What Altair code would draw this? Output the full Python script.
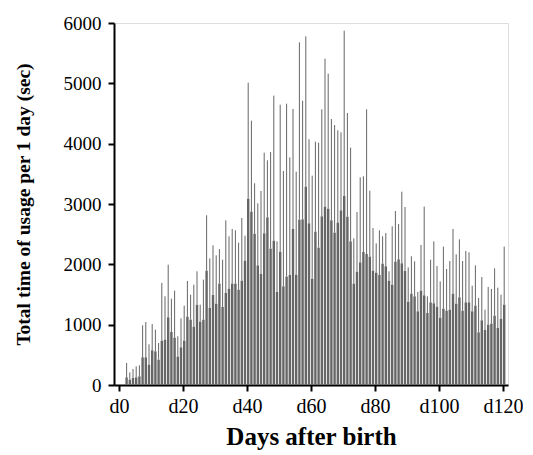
import altair as alt
import pandas as pd

days = list(range(2, 121))

means = [127, 88, 116, 127, 144, 459, 459, 337, 575, 558,
         420, 735, 751, 1122, 878, 785, 470, 624, 735, 1133,
         1083, 967, 1331, 1050, 1083, 1895, 1276, 1492, 1348, 1680,
         1293, 1525, 1597, 1680, 1680, 1580, 1729, 2061, 3088, 2873,
         2508, 1983, 1840, 2514, 2779, 2260, 2392, 1541, 2210, 1635,
         1796, 1823, 2586, 1829, 2740, 2746, 3287, 2680, 1762, 2541,
         2276, 2796, 2956, 2923, 2729, 2525, 2691, 2895, 3133, 2790,
         2381, 1680, 1878, 2033, 2204, 2171, 2127, 1895, 1862, 1823,
         2011, 1967, 1729, 1663, 2044, 2083, 2017, 1890, 1381, 1514,
         1470, 1221, 1564, 1486, 1193, 1370, 1354, 1298, 1116, 1265,
         1232, 1249, 1514, 1348, 1453, 1232, 1370, 1370, 1221, 1315,
         873, 1072, 912, 1000, 1017, 1149, 945, 1099, 1331]

uppers = [365, 210, 265, 309, 326, 989, 1044, 674, 1011, 917,
          696, 1691, 1470, 1994, 1431, 1564, 807, 1105, 1315, 1724,
          1497, 1663, 1884, 1331, 1746, 2812, 2099, 2315, 2149, 2254,
          2077, 2729, 2464, 2586, 2564, 2359, 2768, 2475, 5011, 4381,
          3343, 3011, 3215, 3851, 3724, 3862, 4796, 2381, 4646, 3547,
          4663, 3773, 4575, 3536, 5680, 4713, 5779, 4072, 3470, 4033,
          4017, 4569, 5409, 5160, 4409, 4309, 4221, 4188, 5873, 4508,
          3934, 2431, 2867, 3442, 3459, 4569, 3221, 2602, 2348, 2564,
          2464, 2519, 1884, 2630, 2884, 2669, 3204, 2950, 1950, 2133,
          2050, 1541, 2320, 2956, 1470, 2077, 2381, 1972, 1718, 2293,
          1923, 2055, 2586, 2166, 2414, 2055, 2221, 2199, 1646, 1983,
          1442, 1790, 1249, 1624, 1591, 1934, 1613, 1497, 2293]

x_ticks = list(range(0, 121, 5))
y_ticks = [0, 1000, 2000, 3000, 4000, 5000, 6000]

df = pd.DataFrame({"day": days, "mean": means, "upper": uppers})

FONT = "Liberation Serif"
GRAY = "#666666"

x_enc = alt.X(
    "day:Q",
    scale=alt.Scale(domain=[0, 120], nice=False, zero=True),
    axis=alt.Axis(
        values=x_ticks,
        labelExpr="datum.value % 20 == 0 ? 'd' + datum.value : ''",
        title="Days after birth",
        grid=False,
        domainColor="black",
        domainWidth=2,
        tickColor="black",
        tickWidth=2,
        tickSize=6,
        labelFont=FONT,
        labelFontSize=20,
        labelColor="black",
        labelPadding=5,
        labelFlush=False,
        labelOverlap=False,
        titleFont=FONT,
        titleFontSize=25,
        titleFontWeight="bold",
        titleColor="black",
        titlePadding=8,
    ),
)

y_axis = alt.Axis(
    values=y_ticks,
    format="d",
    title="Total time of usage per 1 day (sec)",
    grid=False,
    domainColor="black",
    domainWidth=2,
    tickColor="black",
    tickWidth=2,
    tickSize=6,
    labelFont=FONT,
    labelFontSize=19,
    labelColor="black",
    labelPadding=7,
    titleFont=FONT,
    titleFontSize=19.5,
    titleFontWeight="bold",
    titleColor="black",
    titlePadding=30,
)

bars = alt.Chart(df).mark_bar(color=GRAY, size=2.4, xOffset=1.2).encode(
    x=x_enc,
    y=alt.Y("mean:Q", scale=alt.Scale(domain=[0, 6000], nice=False), axis=y_axis),
)

whiskers = alt.Chart(df).mark_rule(color=GRAY, strokeWidth=1, xOffset=1.2).encode(
    x="day:Q",
    y="mean:Q",
    y2="upper:Q",
)

chart = (
    alt.layer(bars, whiskers)
    .properties(
        width=394,
        height=362,
        autosize=alt.AutoSizeParams(type="none"),
        padding={"left": 106, "top": 15, "right": 15, "bottom": 70},
    )
    .configure_view(stroke=None)
    .configure(background="white")
)

chart.save("out.html", embed_options={"renderer": "svg", "actions": False})
